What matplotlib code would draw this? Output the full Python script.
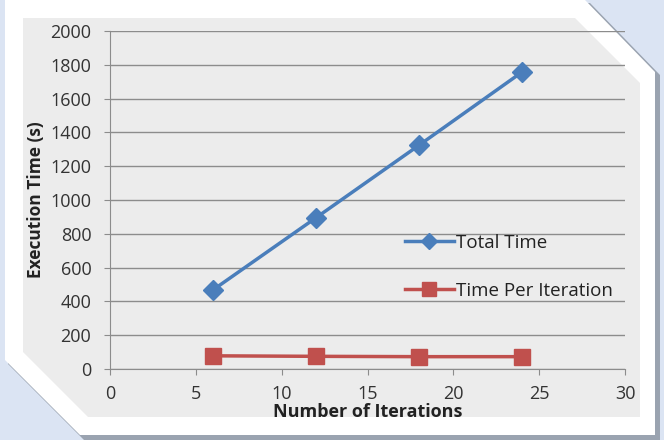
import matplotlib
matplotlib.use("Agg")
import matplotlib.pyplot as plt
from matplotlib.patches import Polygon

iterations = [6, 12, 18, 24]
total_time = [468, 895, 1324, 1757]
time_per_iter = [78, 75, 73, 73]

x_ticks = [0, 5, 10, 15, 20, 25, 30]
y_ticks = [0, 200, 400, 600, 800, 1000, 1200, 1400, 1600, 1800, 2000]

W, H = 664, 440
plt.rcParams['font.family'] = ['Open Sans', 'DejaVu Sans']

fig = plt.figure(figsize=(W / 100, H / 100), dpi=100)
fig.patch.set_facecolor('#dbe4f3')


def px(pts):
    # pixel coords (origin top-left) -> figure fraction
    return [(x / W, 1 - y / H) for x, y in pts]


shadow = [(8, 3), (590, 3), (660, 75), (660, 440), (84, 440), (8, 364)]
frame = [(5, 0), (585, 0), (655, 72), (655, 435), (80, 435), (5, 360)]
panel = [(23, 18), (575, 18), (640, 83), (640, 417), (88, 417), (23, 352)]
for pts, col in [(shadow, '#9aa3b0'), (frame, 'white'), (panel, '#ececec')]:
    fig.patches.append(Polygon(px(pts), closed=True, transform=fig.transFigure,
                               facecolor=col, edgecolor='none', zorder=-10))

ax = fig.add_axes([110 / W, 1 - 369 / H, 515 / W, 338 / H])
ax.set_zorder(5)
ax.set_facecolor('none')
ax.set_xlim(0, 30)
ax.set_ylim(0, 2000)
ax.set_xticks(x_ticks)
ax.set_yticks(y_ticks)
ax.grid(axis='y', color='#8c8c8c', linewidth=1)
ax.set_axisbelow(True)
for side in ['top', 'right']:
    ax.spines[side].set_visible(False)
for side in ['left', 'bottom']:
    ax.spines[side].set_color('#8c8c8c')
ax.tick_params(colors='#8c8c8c', length=4.5, labelcolor='#333333', labelsize=13)
ax.tick_params(axis='x', pad=7)
ax.tick_params(axis='y', pad=9)

ax.plot(iterations, total_time, color='#4a7ebb', linewidth=2.5,
        marker='D', markersize=10, label='Total Time', clip_on=False)
ax.plot(iterations, time_per_iter, color='#c0504d', linewidth=2.5,
        marker='s', markersize=12, label='Time Per Iteration', clip_on=False)

ax.set_xlabel('Number of Iterations', fontsize=13, fontweight='bold',
              color='#222222', labelpad=0)
ax.set_ylabel('Execution Time (s)', fontsize=12.5, fontweight='bold',
              color='#222222', labelpad=4)

ax.legend(loc='upper left', bbox_to_anchor=(0.573, 0.40), frameon=False,
          fontsize=13.5, labelspacing=1.6, handlelength=2.6, handletextpad=0.1,
          borderpad=0, borderaxespad=0, markerscale=0.8,
          labelcolor='#222222')

fig.savefig('out.png', dpi=100, facecolor=fig.get_facecolor())
